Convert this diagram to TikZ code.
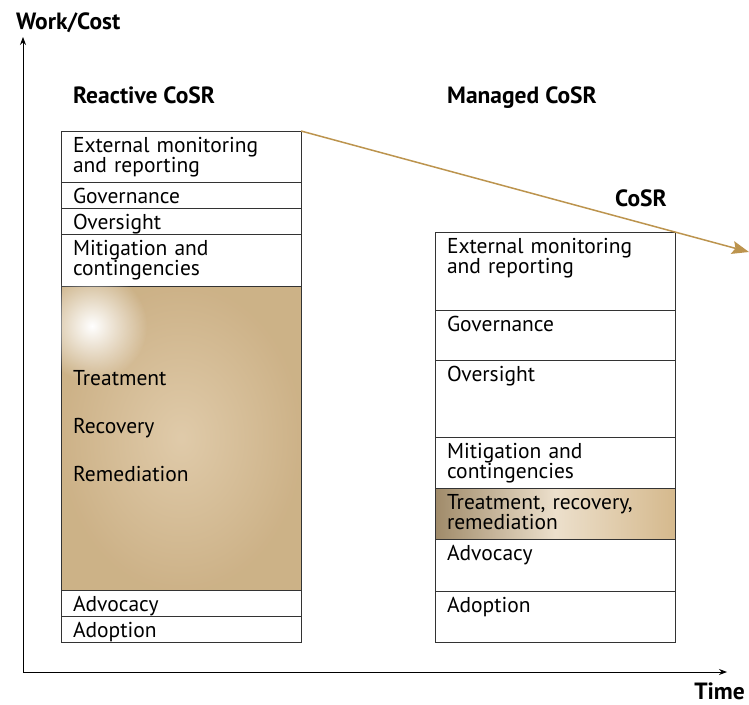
\documentclass[tikz,border=0pt]{standalone}
\usepackage{fontspec}
\setmainfont{PT Sans}
\usetikzlibrary{arrows.meta,fadings}
\definecolor{cosrgold}{RGB}{188,148,78}
\definecolor{cosrtan}{RGB}{213,185,141}
\tikzfading[name=glowfade, inner color=transparent!0, outer color=transparent!100]

\begin{document}
\begin{tikzpicture}[x=1pt, y=-1pt,
    cell/.style={draw=black!80, line width=0.9pt, anchor=north west, outer sep=0pt, text width=216pt, inner xsep=12pt, inner ysep=0pt, align=left, text height=21pt, text depth=#1, font=\fontsize{21.5}{20}\selectfont},
    tancell/.style={cell=#1, inner color=cosrtan!75!white, outer color=cosrtan!96!black},
    bandcell/.style={cell=#1, left color=cosrtan!75!black, right color=cosrtan, middle color=cosrtan!45!white},
    heading/.style={anchor=base west, inner sep=0pt, font=\fontsize{23.5}{24}\selectfont\bfseries},
    label/.style={anchor=base west, inner sep=0pt, font=\fontsize{21.5}{20}\selectfont},
    axis/.style={line width=0.9pt, {Stealth[length=8pt,width=6pt]}-{Stealth[length=8pt,width=6pt]}},
    trend/.style={draw=cosrgold, line width=1.5pt, -{Stealth[length=17pt,width=13pt,inset=3pt]}}
]
\useasboundingbox (0,0) rectangle (749,704);

% axes
\coordinate (origin) at (23,672);
\coordinate (ytop) at (23,37);
\coordinate (xend) at (727,672);
\draw[axis] (ytop) -- (origin) -- (xend);
\node[heading] (worklbl) at (16,29) {Work/Cost};
\node[heading, anchor=base east] (timelbl) at (745,699) {Time};

% reactive column
\node[heading] (reactive) at (73,103) {Reactive CoSR};
\node[cell=30pt] (rext) at (61,131) {External monitoring\\and reporting};
\node[cell=5pt] (rgov) at (rext.south west) {Governance};
\node[cell=5pt] (rovr) at (rgov.south west) {Oversight};
\node[cell=31pt] (rmit) at (rovr.south west) {Mitigation and\\contingencies};
\node[tancell=283pt] (rtreat) at (rmit.south west) {};
\fill[white, path fading=glowfade] (92,326) circle (55pt);
\node[cell=5pt] (radv) at (rtreat.south west) {Advocacy};
\node[cell=5pt] (radop) at (radv.south west) {Adoption};
\node[label] (rtreatlbl) at (73,385) {Treatment};
\node[label] (rrecovlbl) at (73,433) {Recovery};
\node[label] (rremedlbl) at (73,481) {Remediation};

% managed column
\node[heading] (managed) at (447,103) {Managed CoSR};
\node[cell=57pt] (mext) at (435,232) {External monitoring\\and reporting};
\node[cell=29pt] (mgov) at (mext.south west) {Governance};
\node[cell=56pt] (movr) at (mgov.south west) {Oversight};
\node[cell=30pt] (mmit) at (movr.south west) {Mitigation and\\contingencies};
\node[bandcell=30pt] (mtreat) at (mmit.south west) {Treatment, recovery,\\remediation};
\node[cell=31pt] (madv) at (mtreat.south west) {Advocacy};
\node[cell=30pt] (madop) at (madv.south west) {Adoption};

% trend
\coordinate (trendend) at (749,252);
\draw[trend] (rext.north east) -- (trendend);
\node[heading] (cosr) at (615,206) {CoSR};
\end{tikzpicture}
\end{document}
